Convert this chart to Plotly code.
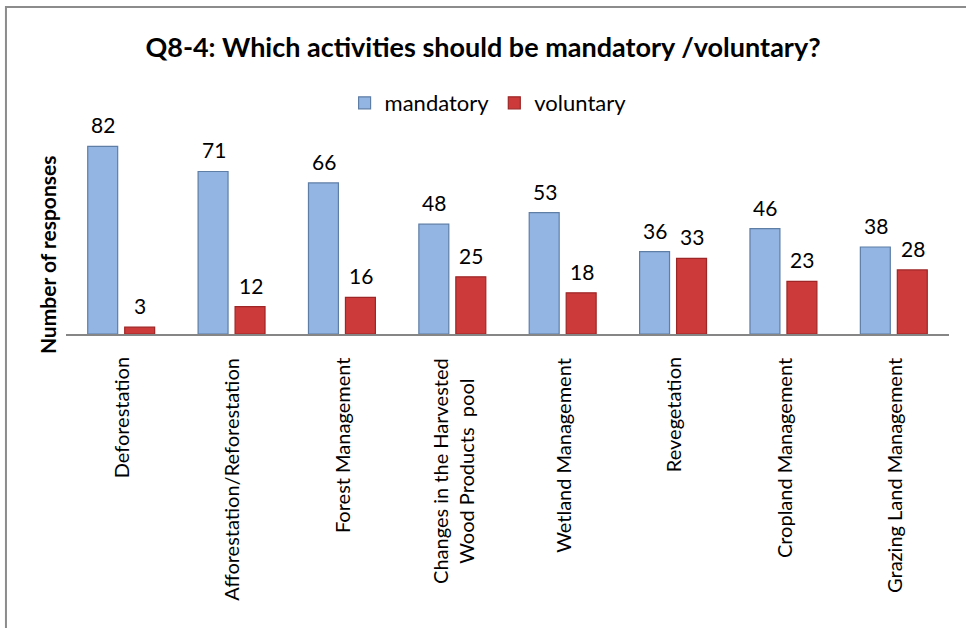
import plotly.graph_objects as go

# Survey data: number of responses per activity
categories = [
    "Deforestation",
    "Afforestation/Reforestation",
    "Forest Management",
    "Changes in the Harvested<br>Wood Products  pool",
    "Wetland Management",
    "Revegetation",
    "Cropland Management",
    "Grazing Land Management",
]
mandatory = [82, 71, 66, 48, 53, 36, 46, 38]
voluntary = [3, 12, 16, 25, 18, 33, 23, 28]

FONT = "Lato"
BLUE = "#93b5e3"
BLUE_EDGE = "#5f7ea6"
RED = "#cc3a3a"
RED_EDGE = "#9e2626"

fig = go.Figure()
fig.add_trace(go.Bar(
    x=categories, y=mandatory, name="mandatory",
    marker=dict(color=BLUE, line=dict(color=BLUE_EDGE, width=1.2)),
))
fig.add_trace(go.Bar(
    x=categories, y=voluntary, name="voluntary",
    marker=dict(color=RED, line=dict(color=RED_EDGE, width=1.2)),
))

annotations = []
# value labels above each bar
for cat, m, v in zip(categories, mandatory, voluntary):
    for val, shift in ((m, -18), (v, 19)):
        annotations.append(dict(
            x=cat, y=val, xref="x", yref="y", text=str(val),
            showarrow=False, xanchor="center", yanchor="bottom",
            xshift=shift, yshift=7,
            font=dict(family=FONT, size=21, color="#000000"),
        ))
# rotated category labels under the axis
for cat in categories:
    annotations.append(dict(
        x=cat, y=-0.105, xref="x", yref="paper", text=cat,
        showarrow=False, textangle=-90, xanchor="center", yanchor="top",
        align="center",
        font=dict(family=FONT, size=20, color="#000000"),
    ))
# y axis title
annotations.append(dict(
    x=-0.0215, y=0.383, xref="paper", yref="paper",
    text="<b>Number of responses</b>", showarrow=False, textangle=-90,
    xanchor="center", yanchor="middle",
    font=dict(family=FONT, size=21, color="#000000"),
))

fig.update_layout(
    width=966, height=628,
    margin=dict(l=66, r=17, t=128, b=294),
    paper_bgcolor="white", plot_bgcolor="white",
    barmode="group", bargap=0.33, bargroupgap=0.19,
    title=dict(
        text="<b>Q8-4: Which activities should be mandatory /voluntary?</b>",
        x=0.5, xref="container", xanchor="center",
        y=0.925, yref="container", yanchor="middle",
        font=dict(family=FONT, size=27, color="#000000"),
    ),
    legend=dict(
        orientation="h", x=0.478, y=1.121, xanchor="center", yanchor="middle",
        font=dict(family=FONT, size=22, color="#000000"),
        bgcolor="rgba(0,0,0,0)", itemwidth=30,
    ),
    xaxis=dict(
        type="category", showticklabels=False, ticks="",
        showline=True, linecolor="#868686", linewidth=2,
        showgrid=False, zeroline=False,
    ),
    yaxis=dict(
        range=[0, 90], visible=False, showgrid=False, zeroline=False,
    ),
    annotations=annotations,
    shapes=[dict(
        type="rect", xref="paper", yref="paper",
        x0=-0.068, x1=1.03, y0=-1.5, y1=1.587,
        line=dict(color="#8c8c8c", width=2), fillcolor="rgba(0,0,0,0)",
        layer="below",
    )],
    showlegend=True,
)

fig.write_html("out.html")
